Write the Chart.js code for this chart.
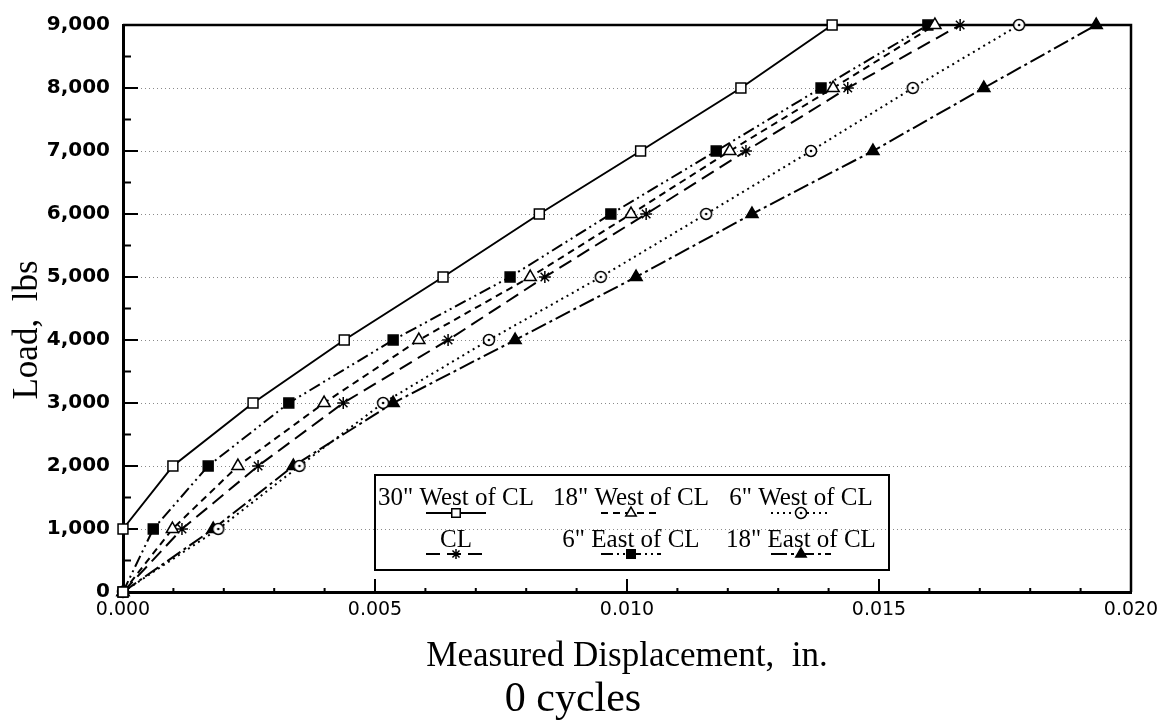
<!DOCTYPE html>
<html>
<head>
<meta charset="utf-8">
<script src="https://cdn.jsdelivr.net/npm/chart.js@4.4.0/dist/chart.umd.min.js"></script>
<style>
  html, body { margin: 0; padding: 0; background: #fff; }
  canvas { display: block; }
</style>
</head>
<body>
<canvas id="loadChart" width="1169" height="724"></canvas>
<script>
// load steps (lbs) and measured displacement (in.) for each gauge position
const loads = [0, 1000, 2000, 3000, 4000, 5000, 6000, 7000, 8000, 9000];
const west30 = [0, 0, 0.00099, 0.00258, 0.00439, 0.00635, 0.00826, 0.01027, 0.01226, 0.01407];
const west18 = [0, 0.00098, 0.00228, 0.00399, 0.00587, 0.00808, 0.01008, 0.01204, 0.01409, 0.01611];
const west6 = [0, 0.00189, 0.0035, 0.00516, 0.00726, 0.00948, 0.01157, 0.01365, 0.01567, 0.01778];
const centerLine = [0, 0.00117, 0.00268, 0.00437, 0.00645, 0.00837, 0.01038, 0.01236, 0.01438, 0.01661];
const east6 = [0, 0.0006, 0.00169, 0.00329, 0.00536, 0.00768, 0.00968, 0.01177, 0.01385, 0.01597];
const east18 = [0, 0.00179, 0.00338, 0.00536, 0.00778, 0.01018, 0.01248, 0.01488, 0.01708, 0.01931];

const seriesNames = ['30" West of CL', '18" West of CL', '6" West of CL', 'CL', '6" East of CL', '18" East of CL'];

const xTickValues = [0, 0.005, 0.01, 0.015, 0.02];
const yTickValues = [0, 1000, 2000, 3000, 4000, 5000, 6000, 7000, 8000, 9000];

const SERIF = '"Liberation Serif", "Times New Roman", serif';

// open circle with a dot in the middle
function dotCircle() {
  const c = document.createElement('canvas');
  c.width = 14; c.height = 14;
  const g = c.getContext('2d');
  g.fillStyle = '#fff';
  g.strokeStyle = '#000';
  g.lineWidth = 1.5;
  g.beginPath(); g.arc(7, 7, 5.5, 0, Math.PI * 2); g.fill(); g.stroke();
  g.fillStyle = '#000';
  g.beginPath(); g.arc(7, 7, 1.3, 0, Math.PI * 2); g.fill();
  return c;
}

function pairs(xs) {
  return xs.map((x, i) => ({ x: x, y: loads[i] }));
}

function series(i, xs, dash, style, filled, radius) {
  return {
    label: seriesNames[i],
    data: pairs(xs),
    showLine: true,
    borderColor: '#000',
    borderWidth: 2,
    borderDash: dash,
    pointStyle: style,
    pointRadius: radius,
    pointHoverRadius: radius,
    pointBorderWidth: 1.5,
    pointBorderColor: '#000',
    pointBackgroundColor: filled ? '#000' : '#fff',
    clip: false
  };
}

const datasets = [
  series(0, west30, [], 'rect', false, 7),
  series(1, west18, [7, 5], 'triangle', false, 7),
  series(2, west6, [2, 4], dotCircle(), false, 6),
  series(3, centerLine, [14, 7], 'star', false, 6),
  series(4, east6, [12, 4, 2, 4, 2, 4], 'rect', true, 7),
  series(5, east18, [16, 4, 3, 4], 'triangle', true, 7)
];

// frame on top/right, inward tick marks
const framePlugin = {
  id: 'frame',
  beforeDatasetsDraw(chart) {
    const { ctx, chartArea: a, scales: { x, y } } = chart;
    ctx.save();
    ctx.strokeStyle = '#000';
    ctx.lineWidth = 2.5;
    ctx.beginPath();
    ctx.moveTo(a.left, a.top);
    ctx.lineTo(a.right, a.top);
    ctx.lineTo(a.right, a.bottom);
    ctx.stroke();

    ctx.lineWidth = 2;
    ctx.beginPath();
    for (let v = 500; v < 9000; v += 500) {
      const py = y.getPixelForValue(v);
      const len = v % 1000 === 0 ? 15 : 8;
      ctx.moveTo(a.left, py);
      ctx.lineTo(a.left + len, py);
    }
    for (let v = 1; v < 20; v++) {
      const px = x.getPixelForValue(v / 1000);
      const len = v % 5 === 0 ? 13 : 4;
      ctx.moveTo(px, a.bottom);
      ctx.lineTo(px, a.bottom - len);
    }
    ctx.stroke();
    ctx.restore();
  }
};

// legend box: name on top, line sample with marker underneath
const legendPlugin = {
  id: 'boxLegend',
  afterDatasetsDraw(chart) {
    const { ctx } = chart;
    const box = { left: 375, top: 475, right: 889, bottom: 570 };
    const cols = [456, 631, 801];
    const textRows = [498, 540];
    const lineRows = [513, 554];
    ctx.save();
    ctx.strokeStyle = '#000';
    ctx.lineWidth = 2;
    ctx.strokeRect(box.left, box.top, box.right - box.left, box.bottom - box.top);
    ctx.font = '25px ' + SERIF;
    ctx.fillStyle = '#000';
    ctx.textAlign = 'center';
    ctx.textBaseline = 'middle';
    chart.data.datasets.forEach((ds, i) => {
      const cx = cols[i % 3];
      const row = Math.floor(i / 3);
      ctx.fillText(ds.label, cx, textRows[row]);
      const ly = lineRows[row];
      ctx.save();
      ctx.lineWidth = 2;
      ctx.setLineDash(ds.borderDash);
      ctx.beginPath();
      ctx.moveTo(cx - 30, ly);
      ctx.lineTo(cx + 30, ly);
      ctx.stroke();
      ctx.restore();
      const pt = chart.getDatasetMeta(i).data[1];
      if (pt) {
        const o = pt.options;
        ctx.save();
        ctx.fillStyle = o.backgroundColor;
        ctx.strokeStyle = o.borderColor;
        ctx.lineWidth = o.borderWidth;
        Chart.helpers.drawPoint(ctx, {
          pointStyle: o.pointStyle, rotation: 0, radius: o.radius - 1, borderWidth: o.borderWidth
        }, cx, ly);
        ctx.restore();
      }
    });
    ctx.restore();
  }
};

// axis titles and caption
const titlePlugin = {
  id: 'titles',
  afterDraw(chart) {
    const { ctx, chartArea: a } = chart;
    ctx.save();
    ctx.fillStyle = '#000';
    ctx.textAlign = 'center';
    ctx.textBaseline = 'middle';
    ctx.font = '35px ' + SERIF;
    ctx.fillText('Measured Displacement,  in.', (a.left + a.right) / 2, 657);
    ctx.font = '42px ' + SERIF;
    ctx.fillText('0 cycles', 573, 700);
    ctx.translate(28, 330);
    ctx.rotate(-Math.PI / 2);
    ctx.font = '35px ' + SERIF;
    ctx.fillText('Load,  lbs', 0, 0);
    ctx.restore();
  }
};

new Chart(document.getElementById('loadChart'), {
  type: 'scatter',
  data: { datasets: datasets },
  options: {
    responsive: false,
    animation: false,
    devicePixelRatio: 1,
    layout: { padding: { top: 16, right: 38, left: 0, bottom: 0 } },
    plugins: {
      legend: { display: false },
      tooltip: { enabled: false }
    },
    scales: {
      x: {
        type: 'linear',
        min: 0,
        max: 0.02,
        afterBuildTicks: s => { s.ticks = xTickValues.map(v => ({ value: v })); },
        afterFit: s => { s.height = 132; },
        grid: { display: false, drawTicks: false },
        border: { display: true, color: '#000', width: 3 },
        ticks: {
          padding: 7,
          color: '#000',
          font: { family: 'DejaVu Sans', size: 19 },
          callback: v => v.toFixed(3)
        }
      },
      y: {
        type: 'linear',
        min: 0,
        max: 9000,
        afterBuildTicks: s => { s.ticks = yTickValues.map(v => ({ value: v })); },
        afterFit: s => { s.width = 123; },
        grid: {
          drawTicks: false,
          lineWidth: 1,
          color: c => (c.tick && (c.tick.value === 0 || c.tick.value === 9000)) ? 'rgba(0,0,0,0)' : '#8a8a8a'
        },
        border: { display: true, color: '#000', width: 3, dash: [1, 3] },
        ticks: {
          padding: 13,
          color: '#000',
          font: { family: 'DejaVu Sans', size: 20, weight: 'bold' },
          callback: v => v.toLocaleString('en-US')
        }
      }
    }
  },
  plugins: [framePlugin, legendPlugin, titlePlugin]
});
</script>
</body>
</html>
